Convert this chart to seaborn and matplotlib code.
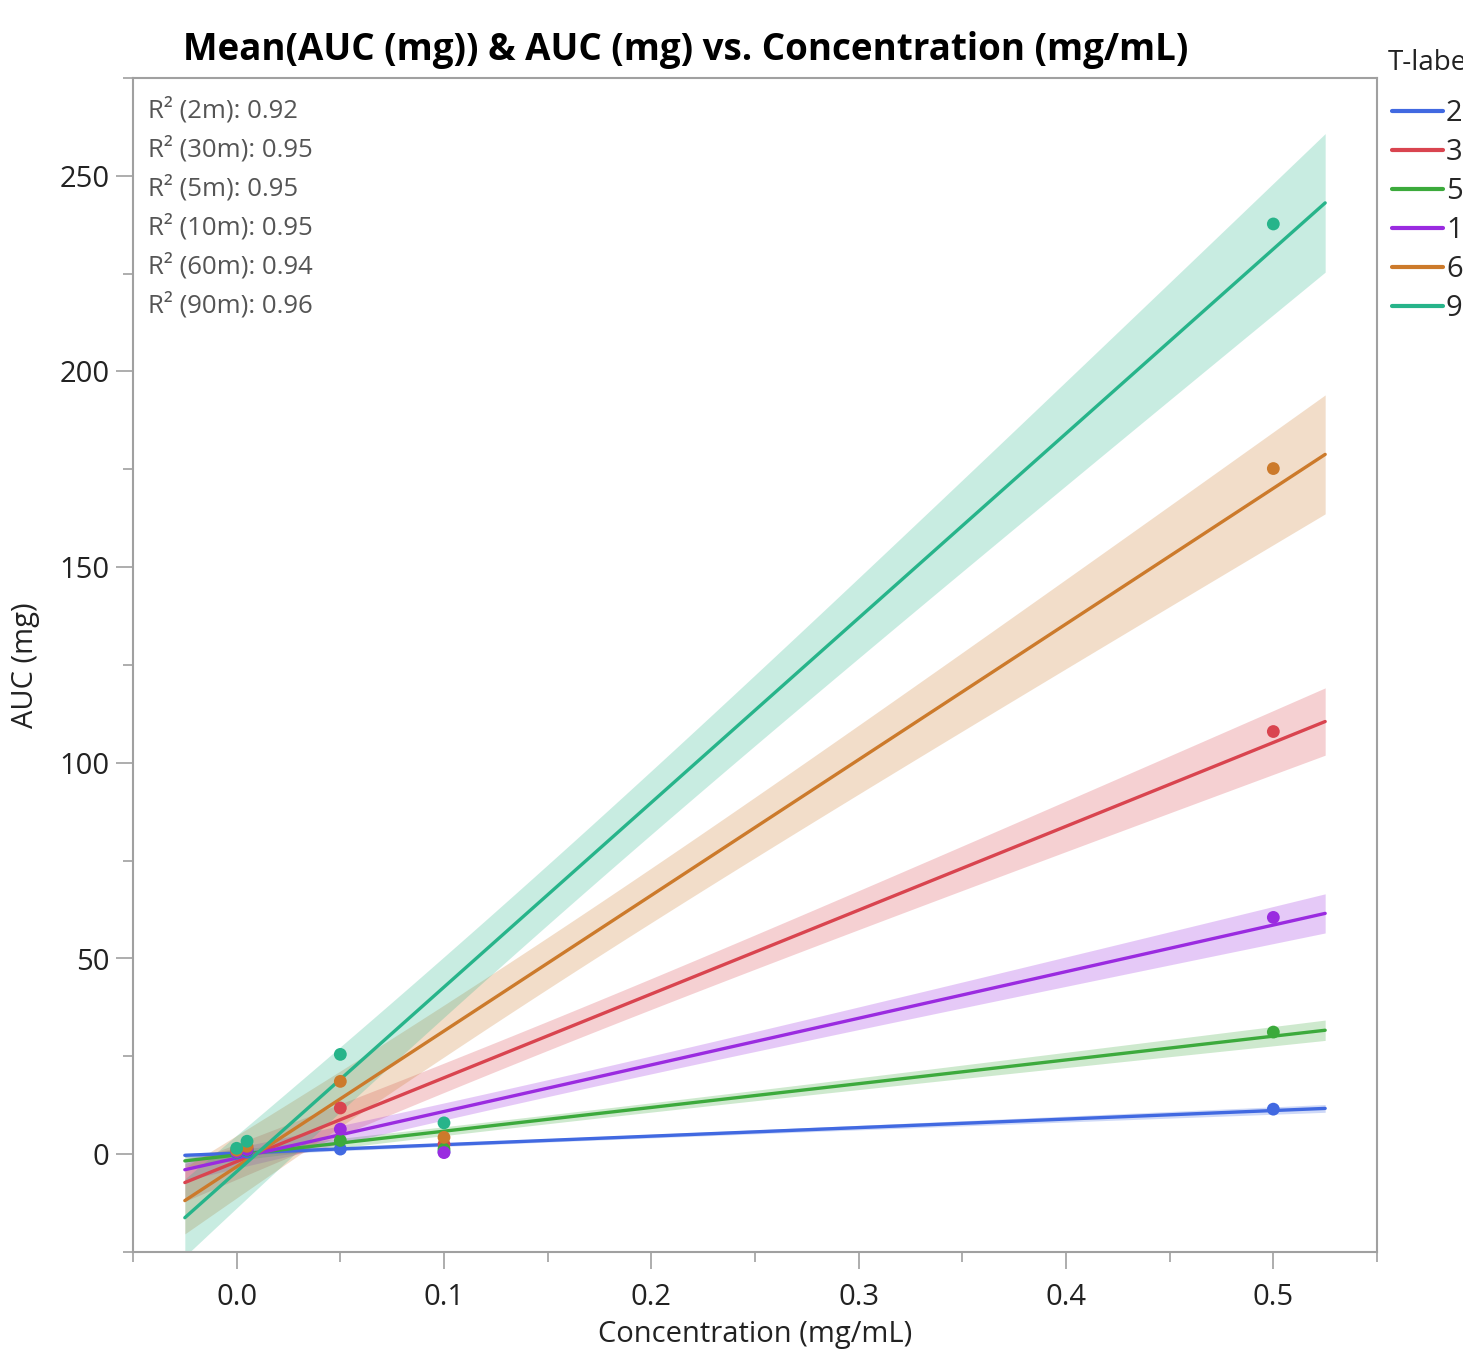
import numpy as np
import pandas as pd
import matplotlib
matplotlib.use("Agg")
import matplotlib.pyplot as plt
import matplotlib.ticker as mticker
from matplotlib.lines import Line2D
import seaborn as sns

# ---------------------------------------------------------------------------
# Data
# ---------------------------------------------------------------------------
T_LABELS = ["2m", "30m", "5m", "10m", "60m", "90m"]
COLORS = ["#4169E1", "#D9444F", "#3CAA3C", "#9A2BE0", "#CC7A2B", "#27B48A"]
R_SQUARED = [0.92, 0.95, 0.95, 0.95, 0.94, 0.96]

CONC = [0.0, 0.005, 0.05, 0.1, 0.5]
AUC_2M = [0.3, 0.5, 1.3, 0.6, 11.5]
AUC_30M = [0.8, 1.5, 11.8, 2.5, 108.0]
AUC_5M = [0.5, 1.0, 3.5, 1.3, 31.2]
AUC_10M = [0.6, 1.2, 6.4, 0.4, 60.5]
AUC_60M = [1.0, 2.0, 18.6, 4.3, 175.2]
AUC_90M = [1.5, 3.3, 25.5, 8.0, 237.7]

# fitted lines (slope, intercept) and 95% band half-width at the right end
FIT_SLOPE = [21.8, 214.2, 60.7, 119.1, 346.7, 471.5]
FIT_INTERCEPT = [0.25, -1.9, -0.2, -1.0, -3.2, -4.45]
CI_END = [1.0, 8.6, 2.6, 5.0, 15.2, 17.7]

sns.set_theme(style="white")
plt.rcParams["font.family"] = ["Open Sans", "DejaVu Sans"]

auc = [AUC_2M, AUC_30M, AUC_5M, AUC_10M, AUC_60M, AUC_90M]
df = pd.DataFrame({
    "Concentration (mg/mL)": np.tile(CONC, len(T_LABELS)),
    "AUC (mg)": np.concatenate(auc),
    "T-label": np.repeat(T_LABELS, len(CONC)),
})

W, H = 1463, 1349
fig = plt.figure(figsize=(W / 100, H / 100), dpi=100)
ax = fig.add_axes([133 / W, 1 - 1252 / H, (1377 - 133) / W, (1252 - 78) / H])

# fit range = data range plus 5% margin
x = np.array(CONC)
span = x.max() - x.min()
xs = np.linspace(x.min() - 0.05 * span, x.max() + 0.05 * span, 200)
n, xbar = len(x), x.mean()
sxx = ((x - xbar) ** 2).sum()
shape = np.sqrt(1 / n + (xs - xbar) ** 2 / sxx)
shape = shape / shape[-1]

for i, lab in enumerate(T_LABELS):
    yfit = FIT_SLOPE[i] * xs + FIT_INTERCEPT[i]
    half = CI_END[i] * shape
    ax.fill_between(xs, yfit - half, yfit + half, color=COLORS[i], alpha=0.25, lw=0)
for i, lab in enumerate(T_LABELS):
    yfit = FIT_SLOPE[i] * xs + FIT_INTERCEPT[i]
    ax.plot(xs, yfit, color=COLORS[i], lw=2.4)

sns.scatterplot(data=df, x="Concentration (mg/mL)", y="AUC (mg)", hue="T-label",
                palette=COLORS, s=85, edgecolor="none", legend=False, ax=ax, zorder=5)

ax.set_xlim(-0.05, 0.55)
ax.set_ylim(-25, 275)
ax.xaxis.set_minor_locator(mticker.MultipleLocator(0.05))
ax.yaxis.set_minor_locator(mticker.MultipleLocator(25))
ax.set_xticks([0.0, 0.1, 0.2, 0.3, 0.4, 0.5])
ax.set_yticks([0, 50, 100, 150, 200, 250])
ax.xaxis.set_major_formatter(mticker.FormatStrFormatter("%.1f"))

ax.tick_params(axis="both", which="major", direction="out", length=12, width=1.2,
               color="#A0A0A0", labelsize=21, labelcolor="#222222", pad=5,
               bottom=True, left=True)
ax.tick_params(axis="x", which="major", pad=10)
ax.tick_params(axis="both", which="minor", direction="out", length=7, width=1.2,
               color="#A0A0A0", bottom=True, left=True)
for sp in ax.spines.values():
    sp.set_color("#A0A0A0")
    sp.set_linewidth(1.5)

ax.set_xlabel("Concentration (mg/mL)", fontsize=21, color="#222222", labelpad=6)
ax.set_ylabel("AUC (mg)", fontsize=21, color="#222222", labelpad=14)
fig.text(686 / W, 1 - 50 / H, "Mean(AUC (mg)) & AUC (mg) vs. Concentration (mg/mL)",
         fontsize=26.5, fontweight="bold", color="black", ha="center", va="center")

for i, lab in enumerate(T_LABELS):
    ax.text(0.012, (1252 - 110 - 39 * i) / 1174, f"R² ({lab}): {R_SQUARED[i]:.2f}",
            transform=ax.transAxes, fontsize=18.5, color="#555555", va="center", ha="left")

# legend, cut by the right edge of the figure like the reference
fig.text(1388 / W, 1 - 63 / H, "T-label", fontsize=20, color="#222222", ha="left", va="center")
handles = [Line2D([0], [0], color=c, lw=3) for c in COLORS]
fig.legend(handles, T_LABELS, loc="upper left",
           bbox_to_anchor=(1392 / W, 1 - 99 / H), frameon=False,
           fontsize=21, handlelength=1.75, handletextpad=0.1,
           labelspacing=0.345, borderaxespad=0, borderpad=0)

fig.savefig("out.png", dpi=100)
